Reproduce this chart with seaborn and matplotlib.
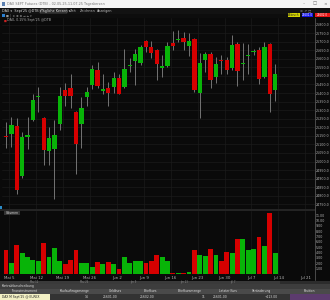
import numpy as np
import pandas as pd
import matplotlib
matplotlib.use("Agg")
import matplotlib.pyplot as plt
from matplotlib.patches import Rectangle
from matplotlib.lines import Line2D
import seaborn as sns

# ---------------- data ----------------
opens = [25151, 25159, 25209, 24916, 25147, 25240, 25380, 25256, 25064, 25073,
         25219, 25417, 25427, 25291, 25221, 25374, 25446, 25534, 25411, 25431,
         25437, 25489, 25433, 25557, 25586, 25575, 25703, 25666, 25654, 25545,
         25557, 25695, 25709, 25724, 25672, 25718, 25402, 25592, 25625, 25491,
         25592, 25592, 25549, 25689, 25569, 25617, 25637, 25654, 25491, 25687,
         25417]
highs = [25229, 25258, 25252, 25174, 25262, 25392, 25433, 25258, 25203, 25242,
         25437, 25456, 25514, 25295, 25374, 25437, 25563, 25582, 25514, 25462,
         25524, 25509, 25660, 25602, 25660, 25680, 25709, 25703, 25660, 25621,
         25699, 25761, 25767, 25757, 25748, 25722, 25631, 25641, 25641, 25611,
         25621, 25611, 25738, 25699, 25695, 25689, 25660, 25670, 25699, 25695,
         25569]
lows = [25081, 25087, 24809, 24906, 25073, 25236, 25287, 24980, 24980, 24782,
        25184, 25326, 25310, 24929, 25077, 25326, 25421, 25427, 25392, 25322,
        25398, 25392, 25427, 25524, 25446, 25563, 25641, 25606, 25475, 25491,
        25553, 25650, 25699, 25650, 25617, 25407, 25256, 25524, 25431, 25460,
        25514, 25514, 25534, 25442, 25475, 25514, 25621, 25452, 25485, 25291,
        25353]
closes = [25145, 25213, 24834, 25145, 25151, 25359, 25384, 25067, 25135, 25157,
          25384, 25380, 25384, 25102, 25314, 25407, 25538, 25444, 25421, 25398,
          25489, 25392, 25543, 25561, 25629, 25668, 25668, 25633, 25569, 25557,
          25672, 25672, 25713, 25699, 25703, 25417, 25577, 25627, 25475, 25569,
          25588, 25534, 25683, 25530, 25578, 25621, 25648, 25481, 25666, 25396,
          25509]
volumes = [4.5, 2.1, 5.4, 4.0, 3.2, 2.7, 2.5, 5.8, 3.1, 4.8,
           2.4, 1.9, 2.6, 4.4, 2.1, 2.0, 1.4, 2.2, 1.9, 2.25,
           1.8, 0.95, 3.25, 2.0, 2.4, 2.4, 2.1, 2.4, 3.6, 3.1,
           2.4, 0.15, 0.1, 0.1, 0.45, 4.5, 3.6, 3.4, 4.7, 3.6,
           2.4, 4.1, 4.0, 6.5, 6.5, 4.5, 4.7, 7.0, 5.3, 11.4,
           4.0]
week_labels = ["Mai 5", "Mai 12", "Mai 19", "Mai 26", "Jun 2", "Jun 9",
               "Jun 16", "Jun 23", "Jun 30", "Jul 7", "Jul 14", "Jul 21"]
week_bars = [1, 6, 11, 16, 21, 26, 31, 36, 41, 46, 51, 56]
price_ticks = [24750, 24800, 24850, 24900, 24950, 25000, 25050, 25100, 25150,
               25200, 25250, 25300, 25350, 25400, 25450, 25500, 25550, 25600,
               25650, 25700, 25750, 25800]
vol_ticks = [1, 2, 3, 4, 5, 6, 7, 8, 9, 10, 11]

GREEN = "#08b408"
RED = "#d60000"
BG = "#0a0a0a"
GRID = "#1b1b1b"

df = pd.DataFrame({"o": opens, "h": highs, "l": lows, "c": closes, "v": volumes})
df["idx"] = np.arange(len(df))
df["dir"] = np.where(df["c"] >= df["o"], "up", "down")

# ---------------- figure ----------------
sns.set_style("dark")
plt.rcParams["font.family"] = ["DejaVu Sans"]
W, H = 330, 300
fig = plt.figure(figsize=(3.3, 3.0), dpi=100, facecolor=BG)


def fa(x0, y0, x1, y1):
    return [x0 / W, 1 - y1 / H, (x1 - x0) / W, (y1 - y0) / H]


def frect(x0, y0, x1, y1, fc, ec="none", lw=0, z=0):
    fig.add_artist(Rectangle((x0 / W, 1 - y1 / H), (x1 - x0) / W, (y1 - y0) / H,
                             transform=fig.transFigure, facecolor=fc,
                             edgecolor=ec, lw=lw, zorder=z))


def ftext(x, y, s, size=2.6, color="#bbbbbb", ha="left", z=5, **kw):
    fig.text(x / W, 1 - y / H, s, fontsize=size, color=color, ha=ha,
             va="center", zorder=z, **kw)


# window chrome
frect(0, 0, 330, 8, "#f4f4f4")
frect(1.5, 2, 5, 6, "#5a7fb0")
ftext(7, 4, "DAX SEPT Futures (DTB) - 02.05.25-11.07.25 Tageskerzen", 2.4, "#777777")
ftext(304, 3.8, "\u2013", 3.2, "#666666", "center")
ftext(315, 3.8, "\u25a1", 3.2, "#666666", "center")
ftext(325, 3.8, "\u00d7", 3.2, "#666666", "center")
frect(0, 8, 330, 14, "#121212")
ftext(2, 11, "DAX \u25be  Sept'25 @DTB \u25be", 2.4, "#dddddd")
frect(40, 9, 67, 13, "#1e1e1e", "#888888", 0.3)
ftext(41, 11, "T\u00e4gliche Kerzen \u25be", 2.4, "#eeeeee")
ftext(70, 11, "Zeit", 2.4, "#bbbbbb")
ftext(80, 11, "Zeichnen", 2.4, "#bbbbbb")
ftext(97, 11, "Anzeigen", 2.4, "#bbbbbb")
frect(0, 14, 330, 17.5, "#0d0d0d")
frect(2, 14.5, 4.5, 16.8, "#2a7fd0")
ftext(6, 15.7, "\u25a0 \u2502 \u00b1 \u2295 \u2296 \u2192 \u2190 \u25be", 2.2, "#999999")
frect(288, 13, 300, 17, "#d6d600")
ftext(294, 15, "Abbruch", 2.0, "#222222", "center")
frect(302, 13, 313, 17, "#1515e8")
ftext(307.5, 15, "25601.0", 2.0, "#ffffff", "center")
frect(315, 13, 330, 17, "#e81515")
ftext(322.5, 15, "25602.0", 2.0, "#ffffff", "center")
ftext(300, 10.5, "\u2699 \u2197 \u25a1", 2.4, "#999999")

# ---------------- price panel ----------------
axp = fig.add_axes(fa(2, 17.5, 315, 209))
axp.set_facecolor(BG)
for s in axp.spines.values():
    s.set_visible(False)
axp.set_xlim(-0.74, 57.4)
axp.set_ylim(24723, 25841)
axp.set_yticks(price_ticks)
axp.set_yticklabels([f"{v:.1f}" for v in price_ticks])
axp.yaxis.tick_right()
axp.tick_params(axis="y", length=0, pad=0.8, labelsize=2.3, labelcolor="#b5b5b5")
axp.set_xticks([b - 0.4 for b in week_bars])
axp.tick_params(axis="x", length=0, labelbottom=False)
axp.grid(True, color=GRID, lw=0.5)
axp.set_axisbelow(True)

axp.vlines(df["idx"], df["l"], df["h"], color="#747474", lw=0.7, zorder=2)
raw_h = np.abs(df["c"] - df["o"])
body_h = np.maximum(raw_h, 7)
body_lo = np.minimum(df["o"], df["c"]) - (body_h - raw_h) / 2
colors = [GREEN if d == "up" else RED for d in df["dir"]]
axp.bar(df["idx"], body_h, bottom=body_lo, width=0.8, color=colors, lw=0, zorder=3)

ftext(4, 20.5, "\u25a0", 2.2, "#cc2222")
ftext(7, 20.5, "DAX, 0.15% Sept'25 @DTB", 2.3, "#aaaaaa")

# separator
frect(0, 208.8, 315, 211, "#242424", z=3)
frect(0, 206, 2.2, 209, "#2a8cc8", z=3)
frect(4, 211.3, 20, 214.8, "#333333", z=4)
ftext(12, 213.1, "Volumen", 2.2, "#dddddd", "center", z=6)

# ---------------- volume panel ----------------
axv = fig.add_axes(fa(2, 211, 315, 275))
axv.set_facecolor(BG)
sns.barplot(data=df, x="idx", y="v", hue="dir", palette={"up": GREEN, "down": RED},
            native_scale=True, dodge=False, width=0.9, saturation=1,
            errorbar=None, legend=False, ax=axv, linewidth=0, zorder=3)
for s in axv.spines.values():
    s.set_visible(False)
axv.set_xlim(-0.74, 57.4)
axv.set_ylim(-0.19, 11.8)
axv.set_xlabel("")
axv.set_ylabel("")
axv.set_yticks(vol_ticks)
axv.set_yticklabels([f"{v:.2f}" for v in vol_ticks])
axv.yaxis.tick_right()
axv.tick_params(axis="y", length=0, pad=0.8, labelsize=2.3, labelcolor="#b5b5b5")
axv.set_xticks([b - 0.4 for b in week_bars])
axv.set_xticklabels(week_labels)
axv.tick_params(axis="x", length=0, pad=1.0, labelsize=2.8, labelcolor="#b5b5b5")
axv.grid(True, axis="x", color=GRID, lw=0.5)
axv.grid(False, axis="y")
axv.set_axisbelow(True)

# right axis line
fig.add_artist(Line2D([315 / W, 315 / W], [1 - 17.5 / H, 1 - 280 / H],
                      transform=fig.transFigure, color="#555555", lw=0.6))

# ---------------- bottom panels ----------------
frect(0, 280.5, 330, 284, "#2c2c2c")
frect(0, 281, 280, 283.5, "#3a3a3a")
for lab, x in zip(["Mai 12", "Mai 26", "Jun 9", "Jun 23", "Jul 7"], [30, 80, 130, 180, 230]):
    ftext(x, 282.3, lab, 1.8, "#8a8a8a")
frect(0, 284, 330, 288.5, "#3d3d3d")
ftext(2, 286.3, "Kontraktbeschreibung", 2.2, "#dddddd")
frect(0, 288.5, 330, 293.5, "#4a4a4a")
for lab, x in [("Finanzinstrument", 25), ("Kaufauftragsmenge", 75),
               ("Geldkurs", 115), ("Briefkurs", 150), ("Briefkursmenge", 190),
               ("Letzter Kurs", 228), ("Ver\u00e4nderung", 262), ("Position", 310)]:
    ftext(x, 291, lab, 2.2, "#dddddd", "center")
frect(0, 293.5, 330, 300, "#2a2a2a")
frect(0, 293.8, 50, 299.5, "#f2f0c4")
ftext(2, 296.7, "DAX M Sept'25 @ EUREX", 2.2, "#222222")
frect(50, 293.8, 290, 299.5, "#333333")
for lab, x in [("14", 88), ("25601.00", 118), ("25602.00", 155),
               ("11", 205), ("25601.00", 228), ("+113.00", 278)]:
    ftext(x, 296.7, lab, 2.2, "#dddddd", "right")
frect(290, 293.8, 330, 299.5, "#5c3b6e")

fig.savefig("out.png", dpi=100, facecolor=BG)
